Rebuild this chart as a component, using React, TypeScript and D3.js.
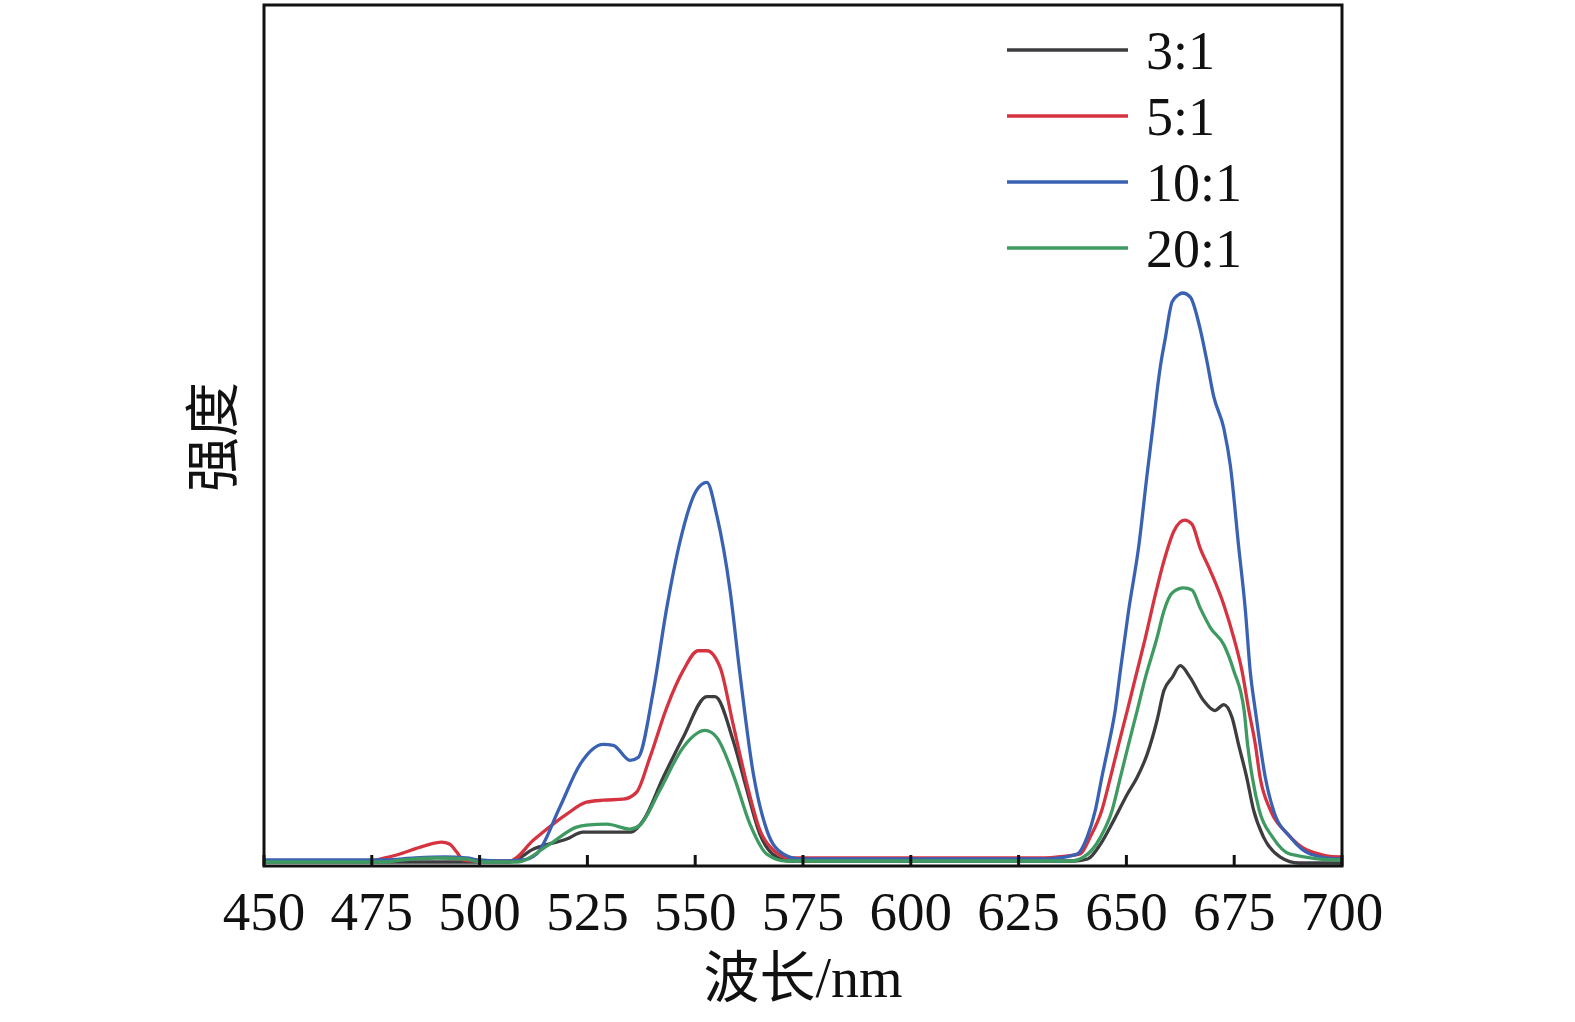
import { useEffect, useRef } from "react";
import * as d3 from "d3";

type Pt = [number, number];

// wavelength (nm), intensity (a.u.)
const ratio3: Pt[] = [
  [450, 1], [505, 1], [507, 1], [512.5, 14], [520.2, 24], [524, 31], [528.7, 31], [535, 31],
  [538, 43], [542.6, 86], [547.2, 126], [552.7, 167], [554.6, 167], [558.8, 123], [562, 73],
  [565, 29], [568.9, 6], [572, 2], [600, 2], [630, 2], [638, 2], [641, 4], [644, 19],
  [647.1, 43], [650.2, 69], [652.5, 86], [654.8, 109], [657.1, 143], [658.7, 173], [660.6, 186],
  [662.5, 198], [664.8, 186], [667.9, 163], [670.5, 153], [672.6, 159], [674.5, 146], [676, 119],
  [677.9, 86], [679.5, 53], [681.8, 26], [685.7, 6], [690, 0], [700, 0],
];

const ratio5: Pt[] = [
  [450, 2], [475, 2], [476, 3], [481.5, 9], [487, 17], [491.2, 21], [493, 19], [494.7, 11],
  [496.2, 3], [500, 2], [507, 2], [512.5, 23], [520.2, 49], [524.8, 61], [528.7, 63], [533.3, 64],
  [536.4, 71], [539.5, 106], [543.4, 156], [547.2, 193], [550.7, 213], [552.7, 213], [555.8, 196],
  [558.8, 139], [562, 79], [565, 33], [568.1, 13], [572, 5], [590, 5], [610, 5], [630, 5],
  [636, 7], [639.3, 9], [641.6, 26], [644.3, 53], [646.3, 86], [648.2, 119], [650.2, 153],
  [652.1, 186], [654.4, 226], [656.7, 269], [658.7, 303], [661, 333], [663.5, 344], [665.2, 340],
  [667.1, 316], [669.5, 293], [672.6, 259], [674.9, 226], [676.8, 193], [678.4, 153], [679.9, 119],
  [681, 86], [683.4, 53], [687.2, 30], [691.9, 13], [699.6, 6], [700, 6],
];

const ratio10: Pt[] = [
  [450, 3], [470, 3], [478, 3], [485, 5], [492, 6], [497, 5], [500, 3], [505, 2], [510, 3],
  [513.2, 9], [518.6, 56], [523.3, 99], [528.7, 119], [531, 118], [534.9, 103], [536.8, 106],
  [540.3, 173], [543.4, 256], [546.5, 323], [550.3, 374], [552.7, 382], [555, 349], [558.1, 273],
  [560.4, 189], [563.5, 89], [566.6, 33], [570.4, 9], [574.3, 4], [590, 4], [610, 4], [630, 4],
  [634, 5], [638.6, 9], [640.9, 26], [642.8, 53], [644.3, 86], [645.9, 119], [647.4, 153],
  [648.6, 193], [650.5, 253], [652.9, 319], [654.8, 390], [656.3, 443], [657.1, 473], [657.9, 499],
  [659, 526], [660.6, 563], [662, 570], [663, 572], [664.8, 568], [667.1, 536], [668.7, 503],
  [670.2, 469], [672.6, 436], [674.1, 399], [676, 319], [677.6, 253], [678.7, 193], [679.9, 153],
  [681, 119], [682.2, 86], [684.1, 53], [688, 26], [692.6, 9], [699.6, 4], [700, 4],
];

const ratio20: Pt[] = [
  [450, 1], [478, 1], [482, 3], [490, 5], [497, 4], [500, 1], [505, 1], [508.6, 1], [516.3, 19],
  [522.5, 36], [524.8, 38], [529.5, 39], [534.9, 34], [537.2, 38], [541.8, 73], [547.2, 116],
  [552.3, 133], [555, 126], [558.8, 89], [562.7, 39], [566.6, 9], [571.2, 2], [590, 2], [620, 2],
  [637, 2], [640.1, 6], [644, 26], [646.7, 53], [648.6, 86], [650.5, 119], [652.5, 153],
  [654.4, 186], [657.1, 226], [658.7, 253], [660.6, 271], [663.3, 276], [665.2, 274], [667.1, 256],
  [669.5, 236], [672.6, 219], [674.9, 193], [677.3, 153], [678.1, 119], [679.2, 86], [680.8, 53],
  [683.9, 26], [688, 9], [699.6, 3], [700, 3],
];

const seriesNames = ["3:1", "5:1", "10:1", "20:1"];
const seriesData = [ratio3, ratio5, ratio10, ratio20];
const seriesColors = ["#3d3d3f", "#d63340", "#3a62b3", "#3f9a62"];
const xTicks = [450, 475, 500, 525, 550, 575, 600, 625, 650, 675, 700];

export default function App() {
  const ref = useRef<SVGSVGElement | null>(null);

  useEffect(() => {
    document.body.style.margin = "0";
    document.documentElement.style.overflow = "hidden";

    const svg = d3.select(ref.current);
    svg.selectAll("*").remove();

    const m = { l: 264, r: 1342, t: 5, b: 866 };
    const x = d3.scaleLinear().domain([450, 700]).range([m.l, m.r]);
    const y = d3.scaleLinear().domain([0, 861]).range([m.b - 3, m.t]);

    const serif = "'Liberation Serif', 'Times New Roman', 'Noto Sans CJK SC', serif";

    // curves
    const line = d3
      .line<Pt>()
      .x((d) => x(d[0]))
      .y((d) => y(d[1]))
      .curve(d3.curveMonotoneX);

    seriesData.forEach((s, i) => {
      svg
        .append("path")
        .datum(s)
        .attr("fill", "none")
        .attr("stroke", seriesColors[i])
        .attr("stroke-width", 3.3)
        .attr("stroke-linejoin", "round")
        .attr("d", line);
    });

    // frame
    svg
      .append("rect")
      .attr("x", m.l)
      .attr("y", m.t)
      .attr("width", m.r - m.l)
      .attr("height", m.b - m.t)
      .attr("fill", "none")
      .attr("stroke", "#111")
      .attr("stroke-width", 3);

    // bottom ticks (inward) + labels
    xTicks.forEach((t) => {
      svg
        .append("line")
        .attr("x1", x(t))
        .attr("x2", x(t))
        .attr("y1", m.b)
        .attr("y2", m.b - 11)
        .attr("stroke", "#111")
        .attr("stroke-width", 3);
      svg
        .append("text")
        .attr("x", x(t))
        .attr("y", 930)
        .attr("text-anchor", "middle")
        .attr("font-family", serif)
        .attr("font-size", 55)
        .attr("fill", "#111")
        .text(t);
    });

    svg
      .append("text")
      .attr("x", (m.l + m.r) / 2)
      .attr("y", 997)
      .attr("text-anchor", "middle")
      .attr("font-family", serif)
      .attr("font-size", 56)
      .attr("fill", "#111")
      .text("波长/nm");

    svg
      .append("text")
      .attr("transform", `translate(213,437) rotate(-90)`)
      .attr("text-anchor", "middle")
      .attr("dominant-baseline", "central")
      .attr("font-family", serif)
      .attr("font-size", 55)
      .attr("fill", "#111")
      .text("强度");

    // legend
    seriesNames.forEach((name, i) => {
      const ly = 50 + i * 66;
      svg
        .append("line")
        .attr("x1", 1007)
        .attr("x2", 1128)
        .attr("y1", ly)
        .attr("y2", ly)
        .attr("stroke", seriesColors[i])
        .attr("stroke-width", 3.5);
      svg
        .append("text")
        .attr("x", 1146)
        .attr("y", ly + 19)
        .attr("font-family", serif)
        .attr("font-size", 54)
        .attr("fill", "#111")
        .text(name);
    });
  }, []);

  return (
    <svg
      ref={ref}
      width={1575}
      height={1022}
      style={{ position: "absolute", left: 0, top: 0, display: "block", background: "#fff" }}
    />
  );
}
